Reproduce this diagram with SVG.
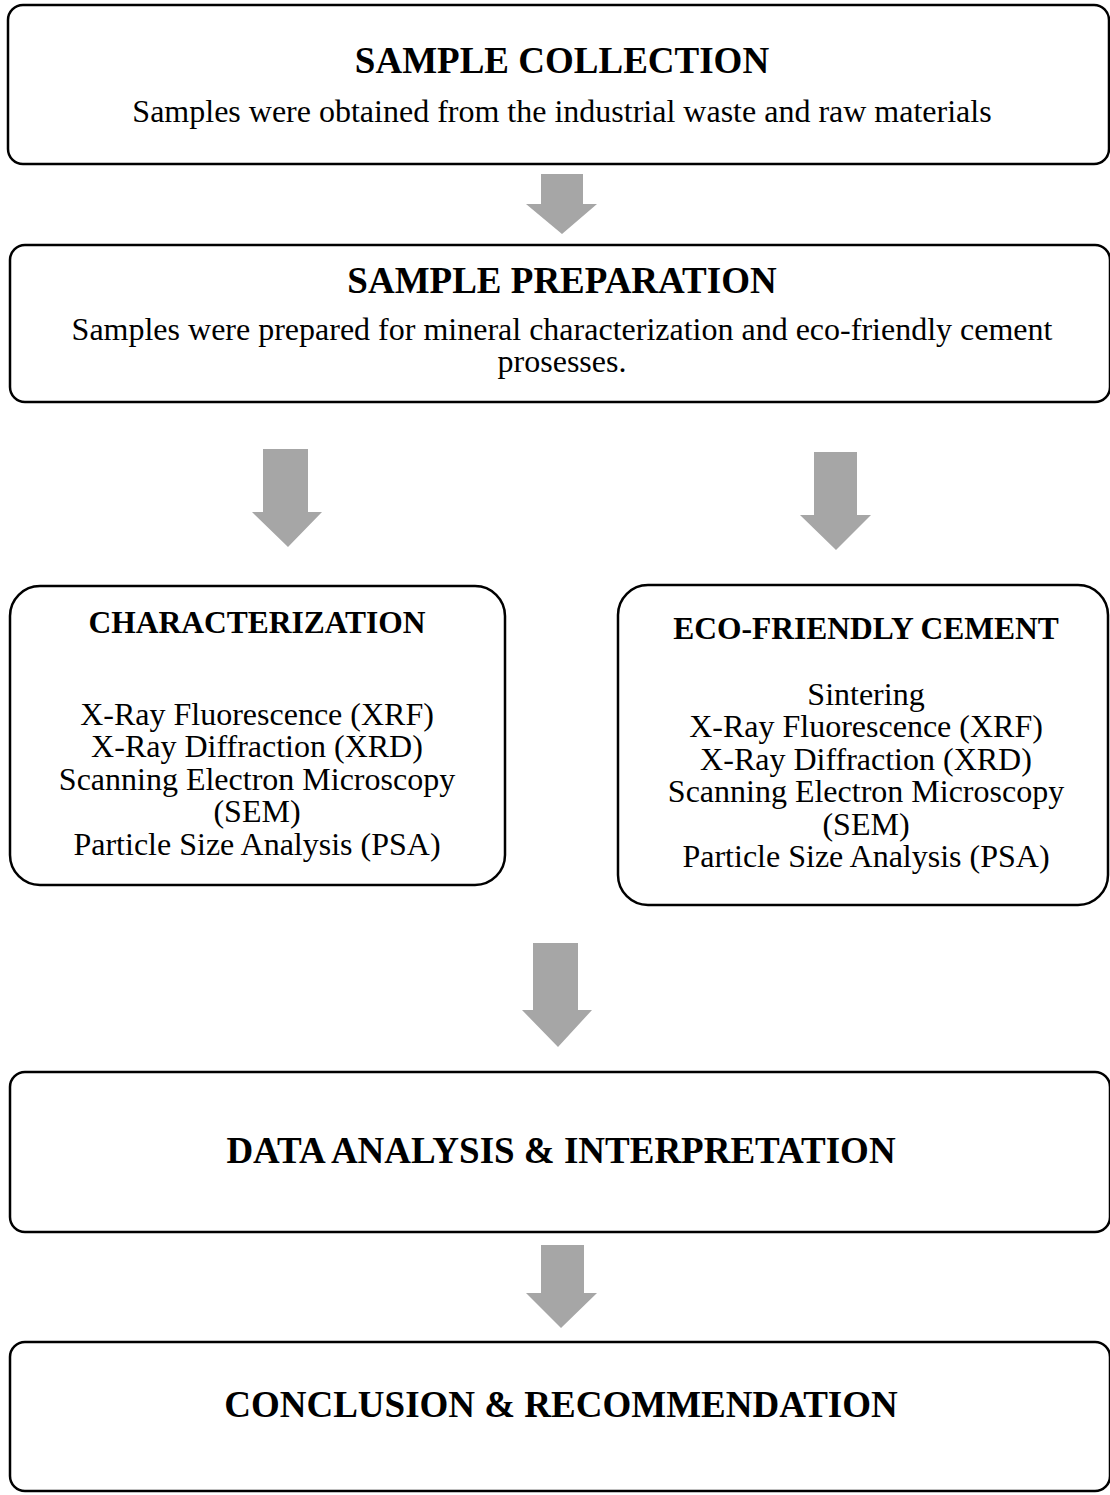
<svg xmlns="http://www.w3.org/2000/svg" width="1110" height="1495" viewBox="0 0 1110 1495">
<style>
.box{fill:#fff;stroke:#000;stroke-width:2.5}
.arr{fill:#a6a6a6}
text{font-family:"Liberation Serif","Times New Roman",serif;fill:#000;text-anchor:middle}
.big{font-size:37px;font-weight:bold}
.sub{font-size:32px}
.hd{font-size:31.5px;font-weight:bold}
</style>
<rect width="1110" height="1495" fill="#fff"/>
<g id="connectors">
<polygon class="arr" points="541,174 583,174 583,204 597,204 562,234 526,204 541,204"/>
<polygon class="arr" points="263,449 308,449 308,512 322,512 288,547 252,512 263,512"/>
<polygon class="arr" points="814,452 857,452 857,515 871,515 836,550 800,515 814,515"/>
<polygon class="arr" points="533,943 578,943 578,1010 592,1010 558,1047 522,1010 533,1010"/>
<polygon class="arr" points="541,1245 584,1245 584,1293 597,1293 561,1328 526,1293 541,1293"/>
</g>
<g id="sample-collection">
<rect class="box" x="8" y="5" width="1101" height="159" rx="15"/>
<text class="big" x="562" y="73">SAMPLE COLLECTION</text>
<text class="sub" x="562" y="122">Samples were obtained from the industrial waste and raw materials</text>
</g>
<g id="sample-preparation">
<rect class="box" x="10" y="245" width="1100" height="157" rx="15"/>
<text class="big" x="562" y="293">SAMPLE PREPARATION</text>
<text class="sub" x="562" y="340">Samples were prepared for mineral characterization and eco-friendly cement</text>
<text class="sub" x="562" y="372">prosesses.</text>
</g>
<g id="characterization">
<rect class="box" x="10" y="586" width="495" height="299" rx="30"/>
<text class="hd" x="257" y="633">CHARACTERIZATION</text>
<text class="sub" x="257" y="725">X-Ray Fluorescence (XRF)</text>
<text class="sub" x="257" y="757">X-Ray Diffraction (XRD)</text>
<text class="sub" x="257" y="790">Scanning Electron Microscopy</text>
<text class="sub" x="257" y="822">(SEM)</text>
<text class="sub" x="257" y="855">Particle Size Analysis (PSA)</text>
</g>
<g id="eco-friendly-cement">
<rect class="box" x="618" y="585" width="490" height="320" rx="30"/>
<text class="hd" x="866" y="639">ECO-FRIENDLY CEMENT</text>
<text class="sub" x="866" y="705">Sintering</text>
<text class="sub" x="866" y="737">X-Ray Fluorescence (XRF)</text>
<text class="sub" x="866" y="770">X-Ray Diffraction (XRD)</text>
<text class="sub" x="866" y="802">Scanning Electron Microscopy</text>
<text class="sub" x="866" y="835">(SEM)</text>
<text class="sub" x="866" y="867">Particle Size Analysis (PSA)</text>
</g>
<g id="data-analysis">
<rect class="box" x="10" y="1072" width="1100" height="160" rx="15"/>
<text class="big" x="561" y="1163">DATA ANALYSIS &amp; INTERPRETATION</text>
</g>
<g id="conclusion">
<rect class="box" x="10" y="1342" width="1100" height="149" rx="15"/>
<text class="big" x="561" y="1417">CONCLUSION &amp; RECOMMENDATION</text>
</g>
</svg>
